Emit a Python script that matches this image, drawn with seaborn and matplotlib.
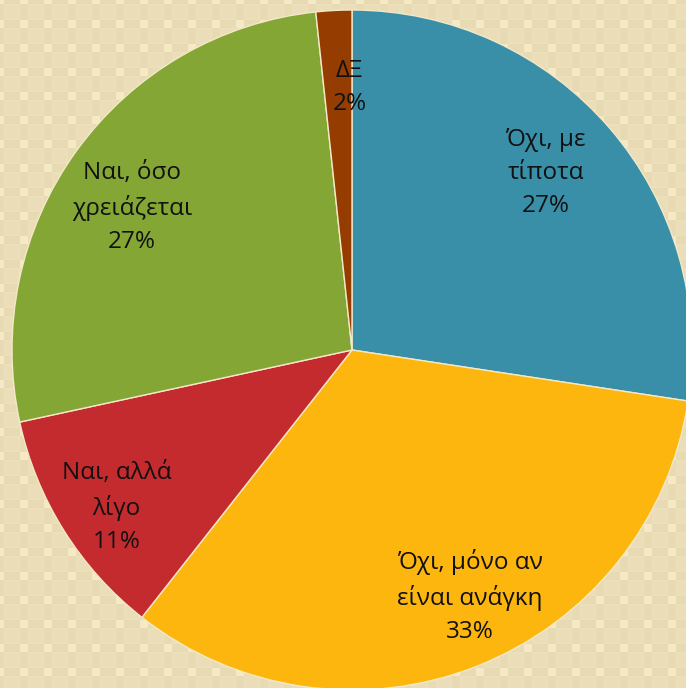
import numpy as np
import matplotlib
matplotlib.use("Agg")
import matplotlib.pyplot as plt
import seaborn as sns

sns.set_theme(style="white")
plt.rcParams['font.family'] = ['Open Sans', 'DejaVu Sans']

# data (clockwise from 12 o'clock)
labels = ["Όχι, με\nτίποτα", "Όχι, μόνο αν\nείναι ανάγκη", "Ναι, αλλά\nλίγο",
          "Ναι, όσο\nχρειάζεται", "ΔΞ"]
shares = [27.4, 33.2, 11.0, 26.7, 1.7]
pct_labels = ["27%", "33%", "11%", "27%", "2%"]
colors = ["#3A8FA8", "#FDB60E", "#C42B2E", "#84A634", "#953D01"]

# small nudges (pixels) to mimic the best-fit label placement
nudges = [(-10, 2), (19, 3), (-8, -15), (-2, -15), (12, -6)]

W, H = 686, 688
fig = plt.figure(figsize=(W / 100, H / 100), dpi=100)

# patterned beige backdrop
tile = np.zeros((24, 24, 3))
tile[:] = np.array([232, 219, 180]) / 255
tile[4:20, 4:20] = np.array([236, 224, 188]) / 255
tile[6:18, 6:18] = np.array([234, 221, 184]) / 255
for a in (0, 20):
    for b in (0, 20):
        tile[a:a + 4, b:b + 4] = np.array([246, 233, 197]) / 255
bg = np.tile(tile, (H // 24 + 1, W // 24 + 1, 1))[:H, :W]
fig.figimage(bg, 0, 0, zorder=-1)

ax = fig.add_axes([0, 0, 1, 1])
ax.set_zorder(2)
ax.patch.set_alpha(0)

wedges, _ = ax.pie(shares, colors=colors, startangle=90, counterclock=False,
                   wedgeprops=dict(edgecolor="#F3E8C8", linewidth=1.0))

r_txt = 0.79
for w, lab, pct, nd in zip(wedges, labels, pct_labels, nudges):
    mid = np.deg2rad((w.theta1 + w.theta2) / 2)
    ax.annotate(f"{lab}\n{pct}", (r_txt * np.cos(mid), r_txt * np.sin(mid)),
                xytext=nd, textcoords="offset pixels",
                ha="center", va="center", fontsize=17.5, color="#111111",
                linespacing=1.5)

R = 340
cx, cy = 352, 688 - 350
ax.set_xlim(-cx / R, (W - cx) / R)
ax.set_ylim(-cy / R, (H - cy) / R)
ax.set_aspect("equal")
ax.axis("off")

fig.savefig("out.png", dpi=100)
